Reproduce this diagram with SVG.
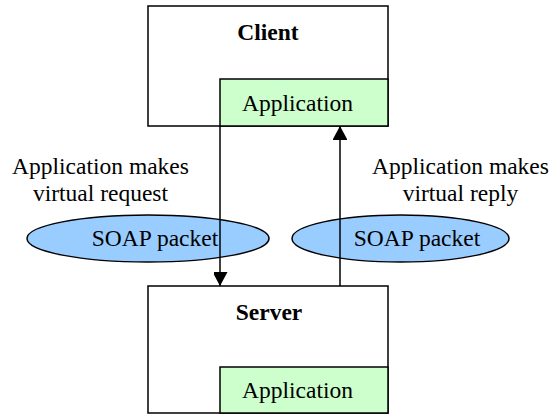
<svg xmlns="http://www.w3.org/2000/svg" width="553" height="417" viewBox="0 0 553 417">
<style>
text{font-family:'Liberation Serif',Tinos,'Times New Roman','DejaVu Serif',serif;font-size:23.5px;fill:#000}
.b{font-weight:bold}
.box{fill:#fff;stroke:#000;stroke-width:1.5}
.app{fill:#ccffcc;stroke:#000;stroke-width:1.5}
.pkt{fill:#99ccff;stroke:#000;stroke-width:1.5}
.conn{stroke:#000;stroke-width:1.5;fill:none}
</style>
<defs>
<marker id="ah" markerWidth="15" markerHeight="14" refX="14" refY="7.5" orient="auto" markerUnits="userSpaceOnUse">
<path d="M0,0 L14,7.5 L0,15 Z" fill="#000"/>
</marker>
</defs>
<g id="client">
<rect class="box" x="148" y="6" width="240" height="120"/>
<text class="b" x="268" y="40" text-anchor="middle" font-family="Liberation Serif, serif">Client</text>
</g>
<g id="client-app">
<rect class="app" x="220" y="79" width="168" height="47"/>
<text x="297.5" y="111" text-anchor="middle" font-family="Liberation Serif, serif">Application</text>
</g>
<g id="server">
<rect class="box" x="148" y="286" width="240" height="127"/>
<text class="b" x="269" y="320" text-anchor="middle" font-family="Liberation Serif, serif">Server</text>
</g>
<g id="server-app">
<rect class="app" x="220" y="367" width="168" height="46"/>
<text x="297.5" y="398" text-anchor="middle" font-family="Liberation Serif, serif">Application</text>
</g>
<g id="packet-request">
<ellipse class="pkt" cx="148" cy="238.5" rx="121" ry="23.5"/>
<text x="155" y="246" text-anchor="middle" font-family="Liberation Serif, serif">SOAP packet</text>
</g>
<g id="packet-reply">
<ellipse class="pkt" cx="400.5" cy="238.5" rx="108.5" ry="23.5"/>
<text x="417" y="246" text-anchor="middle" font-family="Liberation Serif, serif">SOAP packet</text>
</g>
<g id="label-request">
<text x="100.5" y="174" text-anchor="middle" font-family="Liberation Serif, serif">Application makes</text>
<text x="100.5" y="201" text-anchor="middle" font-family="Liberation Serif, serif">virtual request</text>
</g>
<g id="label-reply">
<text x="460.5" y="174" text-anchor="middle" font-family="Liberation Serif, serif">Application makes</text>
<text x="460.5" y="201" text-anchor="middle" font-family="Liberation Serif, serif">virtual reply</text>
</g>
<g id="connectors">
<path class="conn" d="M220,126 L220,286" marker-end="url(#ah)"/>
<path class="conn" d="M340,286 L340,126" marker-end="url(#ah)"/>
</g>
</svg>
